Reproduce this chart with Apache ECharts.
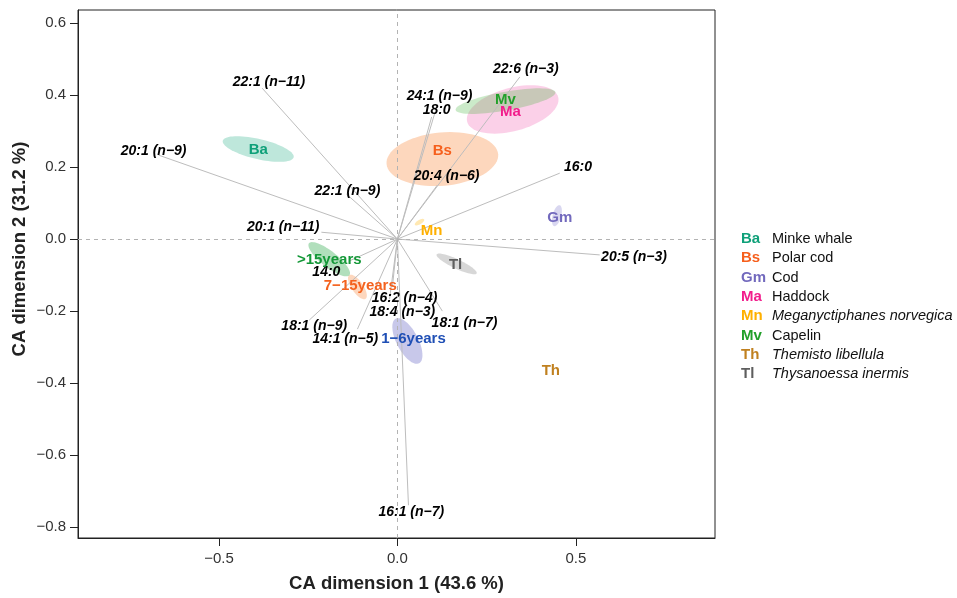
<!DOCTYPE html>
<html><head><meta charset="utf-8">
<script src="https://cdn.jsdelivr.net/npm/echarts@6/dist/echarts.min.js"></script>
<style>html,body{margin:0;padding:0;background:#fff}#c{width:957px;height:598px}</style>
</head><body><div id="c"></div>
<script>
// ---------- data ----------
const xTicks = [-0.5, 0, 0.5];
const yTicks = [-0.8, -0.6, -0.4, -0.2, 0, 0.2, 0.4, 0.6];

// fatty acids: label position (CA coords) and arrow tip
const faNames = ['22:1 (n\u221211)', '20:1 (n\u22129)', '22:1 (n\u22129)', '20:1 (n\u221211)', '14:0',
  '18:1 (n\u22129)', '14:1 (n\u22125)', '16:2 (n\u22124)', '18:4 (n\u22123)', '18:1 (n\u22127)',
  '16:1 (n\u22127)', '20:5 (n\u22123)', '16:0', '22:6 (n\u22123)', '24:1 (n\u22129)', '18:0', '20:4 (n\u22126)'];
const faX = [-0.360, -0.683, -0.140, -0.320, -0.199, -0.233, -0.146, 0.020, 0.014, 0.188, 0.039, 0.663, 0.506, 0.360, 0.118, 0.110, 0.138];
const faY = [0.436, 0.244, 0.133, 0.033, -0.092, -0.242, -0.278, -0.164, -0.203, -0.233, -0.758, -0.050, 0.200, 0.472, 0.397, 0.358, 0.175];
const faTipX = [-0.379, -0.669, -0.143, -0.213, -0.135, -0.247, -0.112, -0.014, -0.022, 0.126, 0.031, 0.567, 0.455, 0.343, 0.104, 0.096, 0.112];
const faTipY = [0.419, 0.233, 0.125, 0.019, -0.061, -0.225, -0.250, -0.133, -0.167, -0.200, -0.739, -0.044, 0.183, 0.450, 0.347, 0.339, 0.150];

// prey / predator species
const spCodes = ['Ba', 'Bs', 'Gm', 'Ma', 'Mn', 'Mv', 'Th', 'Tl'];
const spNames = ['Minke whale', 'Polar cod', 'Cod', 'Haddock', 'Meganyctiphanes norvegica', 'Capelin', 'Themisto libellula', 'Thysanoessa inermis'];
const spItalic = [false, false, false, false, true, false, true, true];
const spX = [-0.390, 0.126, 0.455, 0.317, 0.096, 0.303, 0.430, 0.163];
const spY = [0.249, 0.244, 0.058, 0.353, 0.022, 0.386, -0.367, -0.072];
// confidence ellipses: centre, semi-axes, rotation (deg)
const spEllX = [-0.390, 0.126, 0.447, 0.323, 0.062, 0.303, 0.430, 0.166];
const spEllY = [0.250, 0.222, 0.065, 0.360, 0.047, 0.383, -0.367, -0.069];
const spEllA = [0.102, 0.157, 0.030, 0.132, 0.015, 0.142, 0, 0.062];
const spEllB = [0.028, 0.074, 0.012, 0.060, 0.006, 0.026, 0, 0.013];
const spEllAng = [-13, 5, 75, 15, 30, 10, 0, -25];

// minke whale age groups
const ageNames = ['>15years', '7\u221215years', '1\u22126years'];
const ageX = [-0.191, -0.104, 0.045];
const ageY = [-0.058, -0.131, -0.278];
const ageEllX = [-0.191, -0.112, 0.028];
const ageEllY = [-0.056, -0.133, -0.283];
const ageEllA = [0.072, 0.040, 0.070];
const ageEllB = [0.022, 0.016, 0.030];
const ageEllAng = [-38, -55, -62];

// ---------- styles ----------
const spColors = ['#0fa079', '#f65f1c', '#7269bd', '#f21e8c', '#ffb000', '#22a02a', '#c0801f', '#5e5e5e'];
const spFill = ['rgba(40,175,135,0.30)', 'rgba(248,130,50,0.32)', 'rgba(120,110,200,0.28)', 'rgba(240,60,160,0.24)',
  'rgba(255,180,0,0.30)', 'rgba(70,180,60,0.28)', 'rgba(0,0,0,0)', 'rgba(110,110,110,0.28)'];
const ageColors = ['#149838', '#f4621e', '#1f4fb5'];
const ageFill = ['rgba(50,170,80,0.38)', 'rgba(248,140,70,0.35)', 'rgba(110,110,200,0.38)'];
const sans = "'Liberation Sans', Arial, sans-serif";

const ellData = [];
spCodes.forEach((c, i) => { if (spEllA[i] > 0) ellData.push([spEllX[i], spEllY[i], spEllA[i], spEllB[i], spEllAng[i], spFill[i]]); });
ageNames.forEach((c, i) => ellData.push([ageEllX[i], ageEllY[i], ageEllA[i], ageEllB[i], ageEllAng[i], ageFill[i]]));

function renderEllipse(params, api) {
  const d = ellData[params.dataIndex];
  const cx = d[0], cy = d[1], a = d[2], b = d[3], th = d[4] * Math.PI / 180;
  const pts = [];
  for (let k = 0; k < 72; k++) {
    const t = k / 72 * 2 * Math.PI;
    const x = cx + a * Math.cos(t) * Math.cos(th) - b * Math.sin(t) * Math.sin(th);
    const y = cy + a * Math.cos(t) * Math.sin(th) + b * Math.sin(t) * Math.cos(th);
    pts.push(api.coord([x, y]));
  }
  return { type: 'polygon', shape: { points: pts }, style: { fill: d[5], stroke: null } };
}

const fmt = v => (v < 0 ? '\u2212' : '') + Math.abs(v).toFixed(1);

const graphic = [
  { type: 'text', x: 20, y: 249, rotation: Math.PI / 2, z: 10,
    style: { text: 'CA dimension 2 (31.2 %)', fill: '#222', font: 'bold 18.5px ' + sans, align: 'center', verticalAlign: 'middle' } }
];
spCodes.forEach((c, i) => {
  const y = 239 + i * 19.3;
  graphic.push({ type: 'text', x: 741, y: y, z: 10, style: { text: c, fill: spColors[i], font: 'bold 15px ' + sans, verticalAlign: 'middle', align: 'left' } });
  graphic.push({ type: 'text', x: 772, y: y, z: 10, style: { text: spNames[i], fill: '#111', font: (spItalic[i] ? 'italic ' : '') + '14.5px ' + sans, verticalAlign: 'middle', align: 'left' } });
});

const labelBase = { show: true, position: 'inside', formatter: '{b}', fontFamily: sans, fontWeight: 'bold', opacity: 1 };

const option = {
  backgroundColor: '#fff',
  animation: false,
  grid: { left: 78, right: 242, top: 10, bottom: 60, show: true, borderColor: '#222', borderWidth: 1, backgroundColor: 'transparent' },
  xAxis: {
    type: 'value', min: -0.895, max: 0.89,
    name: 'CA dimension 1 (43.6 %)', nameLocation: 'middle', nameGap: 36,
    nameTextStyle: { fontFamily: sans, fontWeight: 'bold', fontSize: 18.5, color: '#222' },
    axisLine: { show: true, onZero: false, lineStyle: { color: '#222', width: 1 } },
    axisTick: { show: true, length: 8, customValues: xTicks, lineStyle: { color: '#222' } },
    axisLabel: { customValues: xTicks, formatter: fmt, margin: 13, fontFamily: sans, fontSize: 15, color: '#333' },
    splitLine: { show: false }
  },
  yAxis: {
    type: 'value', min: -0.83, max: 0.636,
    axisLine: { show: true, onZero: false, lineStyle: { color: '#222', width: 1 } },
    axisTick: { show: true, length: 8, customValues: yTicks, lineStyle: { color: '#222' } },
    axisLabel: { customValues: yTicks, formatter: fmt, margin: 12, fontFamily: sans, fontSize: 15, color: '#333' },
    splitLine: { show: false }
  },
  graphic: graphic,
  series: [
    {
      type: 'scatter', data: [], silent: true, z: 1,
      markLine: {
        silent: true, symbol: 'none', label: { show: false },
        lineStyle: { type: [4, 4], color: '#b3b3b3', width: 1 },
        data: [{ xAxis: 0 }, { yAxis: 0 }]
      }
    },
    {
      type: 'custom', renderItem: renderEllipse, silent: true, z: 2,
      data: ellData.map(d => [d[0], d[1]])
    },
    {
      type: 'lines', coordinateSystem: 'cartesian2d', silent: true, z: 3,
      lineStyle: { color: '#bdbdbd', width: 1, opacity: 1 },
      data: faNames.map((n, i) => ({ coords: [[0, 0], [faTipX[i], faTipY[i]]] }))
    },
    {
      type: 'scatter', symbolSize: 1, silent: true, z: 4,
      itemStyle: { color: 'rgba(0,0,0,0)', opacity: 1 },
      label: Object.assign({}, labelBase, { fontStyle: 'italic', fontSize: 14, color: '#000' }),
      data: faNames.map((n, i) => ({ name: n, value: [faX[i], faY[i]] }))
    },
    {
      type: 'scatter', symbolSize: 1, silent: true, z: 5,
      itemStyle: { color: 'rgba(0,0,0,0)', opacity: 1 },
      label: Object.assign({}, labelBase, { fontSize: 15 }),
      data: spCodes.map((c, i) => ({ name: c, value: [spX[i], spY[i]], label: { color: spColors[i] } }))
    },
    {
      type: 'scatter', symbolSize: 1, silent: true, z: 5,
      itemStyle: { color: 'rgba(0,0,0,0)', opacity: 1 },
      label: Object.assign({}, labelBase, { fontSize: 15 }),
      data: ageNames.map((c, i) => ({ name: c, value: [ageX[i], ageY[i]], label: { color: ageColors[i] } }))
    }
  ]
};
const chart = echarts.init(document.getElementById('c'), null, { renderer: 'canvas' });
chart.setOption(option);
</script>
</body></html>
